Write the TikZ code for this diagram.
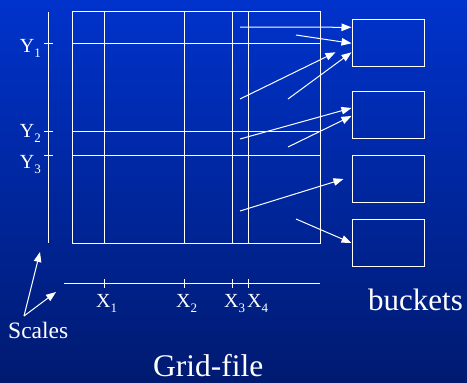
\documentclass[tikz,border=0pt]{standalone}
\usepackage{fontspec}
\setmainfont{Liberation Serif}
\usetikzlibrary{arrows.meta,positioning,calc}
\definecolor{slidetop}{RGB}{0,51,204}
\definecolor{slidebottom}{RGB}{0,26,112}
\newcommand{\subidx}[1]{\raisebox{-5pt}{\fontsize{13}{13}\selectfont #1}}

\begin{document}
\begin{tikzpicture}[x=1pt,y=-1pt,
    line/.style={white,line width=1pt},
    link/.style={white,line width=1pt,-{Triangle[length=10pt,width=7.5pt]}},
    bucket/.style={draw=white,line width=1pt,minimum width=72pt,minimum height=47pt,inner sep=0pt},
    lbl/.style={text=white,inner sep=0pt,font=\fontsize{20}{20}\selectfont}]

    % FOND
    \shade[top color=slidetop,bottom color=slidebottom] (0,0) rectangle (467,383);
    \useasboundingbox (0,0) rectangle (467,383);

    % GRILLE
    \draw[line] (72,11) rectangle (320,243);
    \foreach \x in {104,184,232,248} {
        \draw[line] (\x,11) -- (\x,243);
    }
    \foreach \y in {43,131,155} {
        \draw[line] (72,\y) -- (320,\y);
    }

    % ECHELLE Y
    \draw[line] (48,12) -- (48,243);
    \foreach \y in {43,131,155} {
        \draw[line] (44,\y) -- (53,\y);
    }
    \node[lbl,anchor=base east] (y1) at (41,52) {Y\subidx{1}};
    \node[lbl,anchor=base east] (y2) at (41,137) {Y\subidx{2}};
    \node[lbl,anchor=base east] (y3) at (41,168) {Y\subidx{3}};

    % ECHELLE X
    \draw[line] (64,283) -- (320,283);
    \foreach \x in {104,184,232,248} {
        \draw[line] (\x,279) -- (\x,288);
    }
    \node[lbl,anchor=base west] (x1) at (96,307) {X\subidx{1}};
    \node[lbl,anchor=base west] (x2) at (176,307) {X\subidx{2}};
    \node[lbl,anchor=base west] (x3) at (224,307) {X\subidx{3}};
    \node[lbl,anchor=base west] (x4) at (247,307) {X\subidx{4}};

    % BUCKETS
    \node[bucket] (b1) at (388,43.3) {};
    \node[bucket] (b2) at (388,115) {};
    \node[bucket] (b3) at (388,179) {};
    \node[bucket] (b4) at (388,243) {};
    \node[lbl,anchor=base west,font=\fontsize{31}{31}\selectfont] (buckets) at (368,310) {buckets};

    % POINTEURS
    \coordinate (s1) at (240,27);
    \coordinate (s2) at (296,35);
    \coordinate (s3) at (240,99);
    \coordinate (s4) at (288,99);
    \coordinate (s5) at (240,139);
    \coordinate (s6) at (288,147);
    \coordinate (s7) at (240,211);
    \coordinate (s8) at (296,219);
    \draw[link] (s1) -- ([yshift=16pt]b1.west);
    \draw[link] (s2) -- (b1.west);
    \draw[link] (s3) -- ([xshift=-16pt,yshift=-9pt]b1.west);
    \draw[link] (s4) -- ([yshift=-9pt]b1.west);
    \draw[link] (s5) -- ([yshift=7pt]b2.west);
    \draw[link] (s6) -- ([yshift=-1pt]b2.west);
    \draw[link] (s7) -- ([xshift=-8pt]b3.west);
    \draw[link] (s8) -- (b4.west);

    % SCALES
    \node[lbl,anchor=base west,font=\fontsize{23.5}{23.5}\selectfont] (scales) at (8,338) {Scales};
    \coordinate (sc) at (24,316);
    \coordinate (ty) at (40,252);
    \coordinate (tx) at (56,292);
    \draw[link] (sc) -- (ty);
    \draw[link] (sc) -- (tx);

    % TITRE
    \node[lbl,anchor=base west,font=\fontsize{31.5}{31.5}\selectfont] (title) at (153,376) {Grid-file};

\end{tikzpicture}
\end{document}
